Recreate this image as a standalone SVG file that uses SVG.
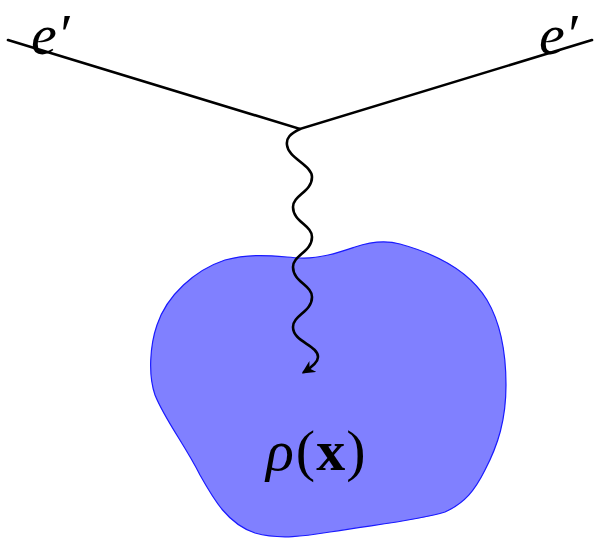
<svg xmlns="http://www.w3.org/2000/svg" width="597" height="540" viewBox="0 0 597 540">
<style>
.lbl{font-family:"Liberation Serif","DejaVu Serif",serif;font-size:58px;fill:#000}
.it{font-style:italic}
.bd{font-weight:bold}
.ln{fill:none;stroke:#000;stroke-width:2.6;stroke-linecap:round}
</style>
<defs>
<marker id="ah" viewBox="0 0 10 10" refX="8" refY="5" markerWidth="5" markerHeight="5" markerUnits="strokeWidth" orient="auto">
<path d="M0,0 L10,5 L0,10 L3,5 Z" fill="#000"/>
</marker>
</defs>
<g id="density">
<path d="M300,258 C320,259 340,252 355,247 C370,242 385,240 400,244 C440,255 470,272 487,300 C500,322 506,350 506,385 C506,420 498,445 485,470 C475,490 465,503 445,512 C420,520 380,524 330,532 C305,536 280,540 255,533 C228,524 214,500 200,475 C185,445 165,420 155,395 C148,375 150,345 157,325 C167,295 195,270 225,260 C255,252 280,257 300,258 Z" fill="#8080ff" stroke="#1a1aff" stroke-width="1.2"/>
<text class="lbl" x="266" y="470" font-size="60"><tspan class="it">ρ</tspan><tspan dx="2">(</tspan><tspan class="bd" dx="1">x</tspan><tspan dx="1">)</tspan></text>
</g>
<g id="connectors">
<path class="ln" d="M8,40 L300,129 L592,40"/>
<path class="ln" d="M300,129 C290,134 286,138 287,145 C288,158 312,165 312,177 C312,192 293,195 293,207 C293,222 312,225 312,237 C312,252 293,255 293,267 C293,282 312,285 312,297 C312,312 293,315 293,327 C293,342 318,345 318,357 C318,362 312,367 304,372" marker-end="url(#ah)"/>
</g>
<g id="label-left"><text class="lbl it" x="31" y="54">e′</text></g>
<g id="label-right"><text class="lbl it" x="539" y="54">e′</text></g>
</svg>
